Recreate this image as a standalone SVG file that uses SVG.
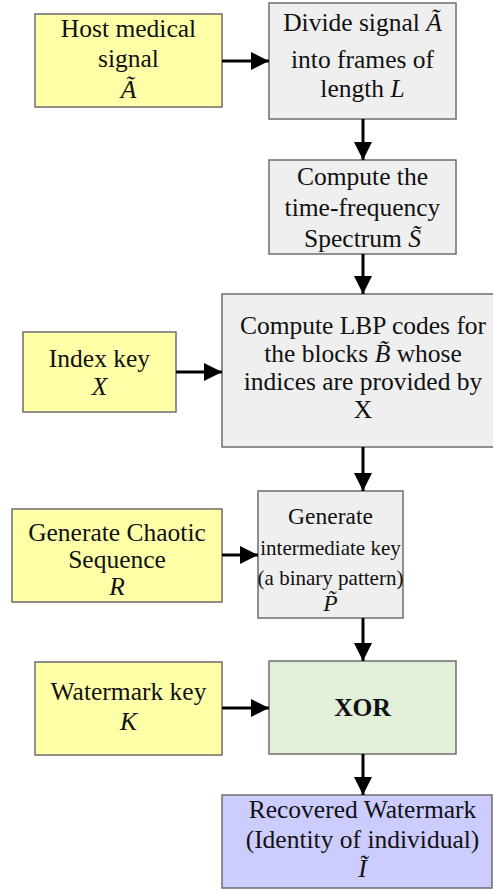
<svg xmlns="http://www.w3.org/2000/svg" width="493" height="891" viewBox="0 0 493 891" font-family="'Liberation Serif', 'DejaVu Serif', serif">
<style>
text{font-family:"Liberation Serif","DejaVu Serif","Noto Serif",serif;font-size:25.5px;fill:#111;text-anchor:middle}
.i{font-style:italic}
.b{font-weight:bold}
.s{font-size:21px}
.m{font-size:23.5px}
.box{stroke:#6e6e6e;stroke-width:1.5}
.y{fill:#ffffa8}
.g{fill:#efefef}
.gr{fill:#e2efd9}
.bl{fill:#ccccff}
.c{stroke:#000;stroke-width:3;fill:none}
</style>
<defs>
<marker id="ah" markerWidth="6" markerHeight="6" refX="6" refY="3" orient="auto" markerUnits="strokeWidth">
<path d="M0,0 L6,3 L0,6 Z" fill="#000"/>
</marker>
</defs>
<rect width="493" height="891" fill="#fff"/>
<g id="host">
<rect class="box y" x="35" y="14" width="187" height="93"/>
<text x="128.5" y="37">Host medical</text>
<text x="128.5" y="67">signal</text>
<text x="128.5" y="98" class="i">Ã</text>
</g>
<g id="divide">
<rect class="box g" x="269" y="3" width="187" height="116"/>
<text x="362.5" y="31">Divide signal <tspan class="i">Ã</tspan></text>
<text x="362.5" y="68">into frames of</text>
<text x="362.5" y="97">length <tspan class="i">L</tspan></text>
</g>
<g id="compute">
<rect class="box g" x="269" y="160" width="187" height="94"/>
<text x="362.5" y="185">Compute the</text>
<text x="362.5" y="216">time-frequency</text>
<text x="362.5" y="247">Spectrum <tspan class="i">S̃</tspan></text>
</g>
<g id="lbp">
<rect class="box g" x="222" y="294" width="290" height="153"/>
<text x="363" y="334">Compute LBP codes for</text>
<text x="363" y="362">the blocks <tspan class="i">B̃</tspan> whose</text>
<text x="363" y="390">indices are provided by</text>
<text x="363" y="418">X</text>
</g>
<g id="index">
<rect class="box y" x="23" y="332" width="153" height="80"/>
<text x="99.5" y="367">Index key</text>
<text x="99.5" y="395" class="i">X</text>
</g>
<g id="generate">
<rect class="box g" x="258" y="491" width="145" height="127"/>
<text x="330.5" y="524" class="m">Generate</text>
<text x="330.5" y="555" class="s">intermediate key</text>
<text x="330.5" y="585" class="s">(a binary pattern)</text>
<text x="330.5" y="611" class="m i">P̃</text>
</g>
<g id="chaotic">
<rect class="box y" x="12" y="509" width="210" height="93"/>
<text x="117" y="541">Generate Chaotic</text>
<text x="117" y="568">Sequence</text>
<text x="117" y="595" class="i">R</text>
</g>
<g id="xor">
<rect class="box gr" x="269" y="661" width="187" height="93"/>
<text x="362.5" y="716" class="b">XOR</text>
</g>
<g id="wmkey">
<rect class="box y" x="35" y="662" width="187" height="93"/>
<text x="128.5" y="700">Watermark key</text>
<text x="128.5" y="730" class="i">K</text>
</g>
<g id="recovered">
<rect class="box bl" x="222" y="795" width="270" height="93"/>
<text x="362.5" y="818">Recovered Watermark</text>
<text x="362.5" y="848">(Identity of individual)</text>
<text x="362.5" y="877" class="i">Ĩ</text>
</g>
<g id="connectors">
<line class="c" x1="222" y1="61" x2="269" y2="61" marker-end="url(#ah)"/>
<line class="c" x1="363" y1="119" x2="363" y2="160" marker-end="url(#ah)"/>
<line class="c" x1="363" y1="254" x2="363" y2="294" marker-end="url(#ah)"/>
<line class="c" x1="176" y1="372" x2="222" y2="372" marker-end="url(#ah)"/>
<line class="c" x1="363" y1="447" x2="363" y2="491" marker-end="url(#ah)"/>
<line class="c" x1="222" y1="555" x2="258" y2="555" marker-end="url(#ah)"/>
<line class="c" x1="363" y1="618" x2="363" y2="661" marker-end="url(#ah)"/>
<line class="c" x1="222" y1="708" x2="269" y2="708" marker-end="url(#ah)"/>
<line class="c" x1="363" y1="754" x2="363" y2="795" marker-end="url(#ah)"/>
</g>
</svg>
